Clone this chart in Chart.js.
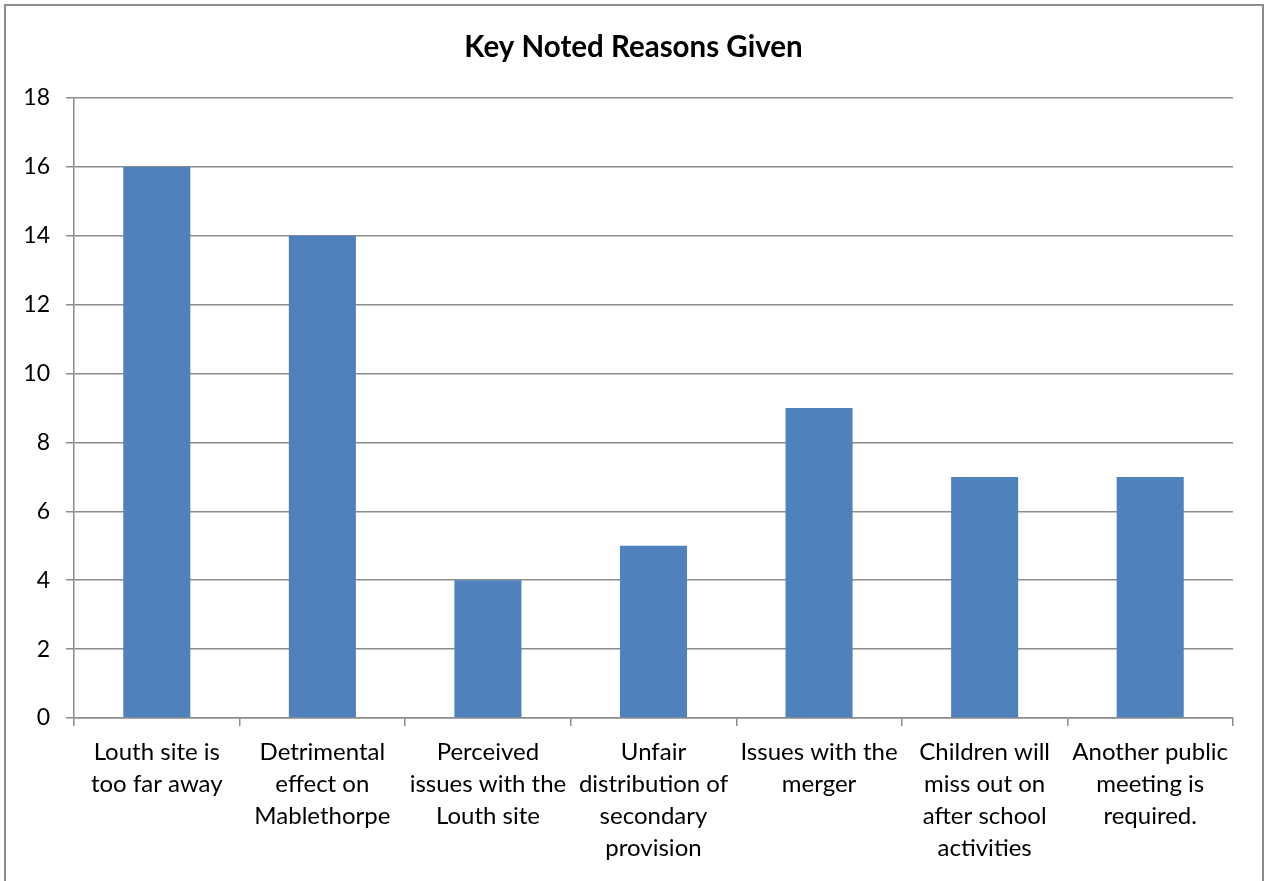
<!DOCTYPE html>
<html>
<head>
<meta charset="utf-8">
<script src="https://cdn.jsdelivr.net/npm/chart.js@4.4.1/dist/chart.umd.min.js"></script>
<style>
  body { margin: 0; background: #fff; }
  #frame { position: absolute; left: 4px; top: 4px; width: 1256px; height: 900px; border: 2px solid #8c8c8c; }
  #graficoRazones { position: absolute; left: 0; top: 0; }
</style>
</head>
<body>
<div id="frame"></div>
<canvas id="graficoRazones" width="1267" height="881"></canvas>
<script>
const categorias = [
    ['Louth site is', 'too far away'],
    ['Detrimental', 'effect on', 'Mablethorpe'],
    ['Perceived', 'issues with the', 'Louth site'],
    ['Unfair', 'distribution of', 'secondary', 'provision'],
    ['Issues with the', 'merger'],
    ['Children will', 'miss out on', 'after school', 'activities'],
    ['Another public', 'meeting is', 'required.']
];
const valores = [16, 14, 4, 5, 9, 7, 7];
const tituloGrafico = 'Key Noted Reasons Given';

const ctx = document.getElementById('graficoRazones');

new Chart(ctx, {
    type: 'bar',
    data: {
        labels: categorias,
        datasets: [{
            label: 'Reasons',
            data: valores,
            backgroundColor: '#4F81BD',
            borderWidth: 0,
            categoryPercentage: 1,
            barPercentage: 0.405
        }]
    },
    options: {
        responsive: false,
        animation: false,
        layout: { padding: 0 },
        plugins: {
            legend: { display: false },
            tooltip: { enabled: false },
            title: {
                display: true,
                text: tituloGrafico,
                color: '#000',
                font: { family: 'Lato', size: 29.5, weight: 'bold', lineHeight: 1.2 },
                padding: { top: 29.3, bottom: 33.3 }
            }
        },
        scales: {
            x: {
                grid: { drawOnChartArea: false, offset: true, tickLength: 8, color: '#8c8c8c', lineWidth: 1.5 },
                border: { color: '#8c8c8c', width: 1.5 },
                ticks: {
                    color: '#000',
                    padding: 10,
                    maxRotation: 0,
                    autoSkip: false,
                    font: { family: 'Lato', size: 24, lineHeight: 1.333 }
                },
                afterFit: function(axis) { axis.height = 163; }
            },
            y: {
                min: 0,
                max: 18,
                grid: { tickLength: 8, color: '#8c8c8c', lineWidth: 1.5 },
                border: { color: '#8c8c8c', width: 1.5 },
                ticks: {
                    stepSize: 2,
                    color: '#000',
                    padding: 16,
                    font: { family: 'Lato', size: 23 }
                },
                afterFit: function(axis) { axis.width = 74; }
            },
            // empty right-hand axis, only keeps the plot clear of the right edge
            margen: {
                position: 'right',
                grid: { display: false },
                border: { display: false },
                ticks: { display: false },
                afterFit: function(axis) { axis.width = 34; }
            }
        }
    }
});
</script>
</body>
</html>
